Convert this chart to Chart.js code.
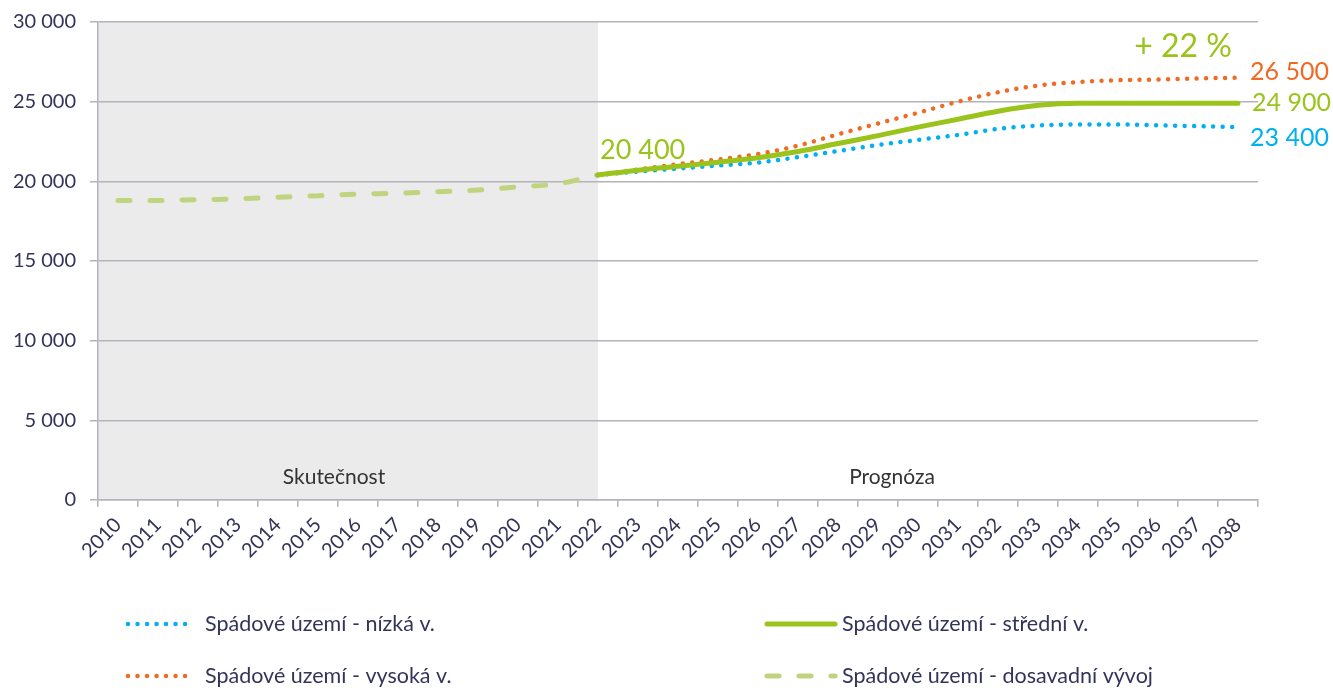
<!DOCTYPE html>
<html>
<head>
<meta charset="utf-8">
<script src="https://cdn.jsdelivr.net/npm/chart.js@4.4.0/dist/chart.umd.min.js"></script>
<style>
  body { margin: 0; background: #fff; }
  #wrap { width: 1333px; height: 688px; }
</style>
</head>
<body>
<div id="wrap"><canvas id="chart" width="1333" height="688"></canvas></div>
<script>
const years = ['2010','2011','2012','2013','2014','2015','2016','2017','2018','2019','2020','2021','2022',
  '2023','2024','2025','2026','2027','2028','2029','2030','2031','2032','2033','2034','2035','2036','2037','2038'];

const pad = n => Array(n).fill(null);

// skutečnost 2010-2022
const history = [18800, 18800, 18850, 18900, 19000, 19100, 19200, 19250, 19350, 19450, 19650, 19850, 20400].concat(pad(16));

// prognóza 2022-2038
const low = pad(12).concat([20400, 20610, 20800, 20990, 21180, 21520, 21900, 22280, 22600, 22910, 23290, 23500, 23570, 23570, 23520, 23460, 23400]);
const middle = pad(12).concat([20400, 20700, 20950, 21200, 21480, 21870, 22370, 22870, 23400, 23900, 24400, 24770, 24900, 24900, 24900, 24900, 24900]);
const high = pad(12).concat([20400, 20740, 21080, 21370, 21710, 22240, 22950, 23630, 24300, 25000, 25590, 26010, 26230, 26350, 26390, 26460, 26500]);

const yTicks = [0, 5000, 10000, 15000, 20000, 25000, 30000];
const lastActualIndex = 12;
const growthLabel = '+ 22 %';

const fmt = v => String(v).replace(/\B(?=(\d{3})+(?!\d))/g, ' ');

const navy = '#34345a';
const gridColor = '#b3b3bb';
const blue = '#00b0f0';
const orange = '#f06a23';
const green = '#9ac31c';
const lightGreen = '#bed47f';

const backdrop = {
  id: 'backdrop',
  beforeDraw(chart) {
    const { ctx, chartArea, scales } = chart;
    ctx.save();
    ctx.fillStyle = '#ffffff';
    ctx.fillRect(0, 0, chart.width, chart.height);
    const xEnd = scales.x.getPixelForValue(lastActualIndex);
    ctx.fillStyle = '#ebebeb';
    ctx.fillRect(chartArea.left, chartArea.top, xEnd - chartArea.left, chartArea.bottom - chartArea.top);
    ctx.restore();
  },
  afterDatasetsDraw(chart) {
    const { ctx, scales } = chart;
    const x = scales.x, y = scales.y;
    ctx.save();
    ctx.textBaseline = 'middle';
    ctx.fillStyle = '#333333';
    ctx.font = '21px Lato';
    ctx.textAlign = 'center';
    ctx.fillText('Skutečnost', x.getPixelForValue(5.4), 477);
    ctx.fillText('Prognóza', x.getPixelForValue(19.35), 477);

    ctx.textAlign = 'left';
    ctx.fillStyle = green;
    ctx.font = '27px Lato';
    ctx.fillText(fmt(middle[lastActualIndex]), x.getPixelForValue(lastActualIndex) + 2, y.getPixelForValue(middle[lastActualIndex]) - 25);
    ctx.font = '32px Lato';
    ctx.textAlign = 'right';
    ctx.fillText(growthLabel, x.getPixelForValue(28) - 6, 47);

    const last = years.length - 1;
    ctx.textAlign = 'left';
    ctx.font = '25px Lato';
    const lx = x.getPixelForValue(last) + 12;
    ctx.fillStyle = orange;
    ctx.fillText(fmt(high[last]), lx, y.getPixelForValue(high[last]) - 6);
    ctx.fillStyle = green;
    ctx.fillText(fmt(middle[last]), lx + 2, y.getPixelForValue(middle[last]));
    ctx.fillStyle = blue;
    ctx.fillText(fmt(low[last]), lx, y.getPixelForValue(low[last]) + 11);
    ctx.restore();
  },
  afterDraw(chart) {
    const { ctx } = chart;
    const slots = [
      { i: 0, x: 128, y: 624, w: 62 },
      { i: 1, x: 767, y: 624, w: 68 },
      { i: 2, x: 128, y: 676, w: 62 },
      { i: 3, x: 767, y: 676, w: 68 }
    ];
    ctx.save();
    ctx.font = '21.5px Lato';
    ctx.textBaseline = 'middle';
    ctx.textAlign = 'left';
    slots.forEach(s => {
      const ds = chart.data.datasets[s.i];
      ctx.strokeStyle = ds.borderColor;
      ctx.lineWidth = ds.borderWidth;
      ctx.lineCap = ds.borderCapStyle || 'butt';
      ctx.setLineDash(ds.borderDash || []);
      ctx.beginPath();
      ctx.moveTo(s.x, s.y);
      ctx.lineTo(s.x + s.w, s.y);
      ctx.stroke();
      ctx.setLineDash([]);
      ctx.fillStyle = navy;
      ctx.fillText(ds.label, s.i % 2 ? s.x + s.w + 7 : s.x + s.w + 15, s.y);
    });
    ctx.restore();
  }
};

new Chart(document.getElementById('chart'), {
  type: 'line',
  data: {
    labels: years,
    datasets: [
      {
        label: 'Spádové území - nízká v.',
        data: low,
        borderColor: blue,
        borderWidth: 4.5,
        borderDash: [0.01, 9.5],
        borderCapStyle: 'round',
        pointRadius: 0,
        cubicInterpolationMode: 'monotone',
        order: 3
      },
      {
        label: 'Spádové území - střední v.',
        data: middle,
        borderColor: green,
        borderWidth: 5,
        borderCapStyle: 'round',
        pointRadius: 0,
        cubicInterpolationMode: 'monotone',
        order: 1
      },
      {
        label: 'Spádové území - vysoká v.',
        data: high,
        borderColor: orange,
        borderWidth: 4.5,
        borderDash: [0.01, 9.5],
        borderCapStyle: 'round',
        pointRadius: 0,
        cubicInterpolationMode: 'monotone',
        order: 2
      },
      {
        label: 'Spádové území - dosavadní vývoj',
        data: history,
        borderColor: lightGreen,
        borderWidth: 5,
        borderDash: [12, 20],
        borderCapStyle: 'round',
        pointRadius: 0,
        cubicInterpolationMode: 'monotone',
        order: 4
      }
    ]
  },
  options: {
    responsive: false,
    animation: false,
    layout: { padding: { left: 0, right: 75, top: 10, bottom: 0 } },
    plugins: {
      legend: { display: false },
      tooltip: { enabled: false }
    },
    scales: {
      x: {
        offset: true,
        afterFit: s => { s.height = 188; },
        grid: {
          display: true,
          offset: true,
          drawOnChartArea: false,
          drawTicks: true,
          tickLength: 7,
          color: gridColor,
          lineWidth: 1.5
        },
        border: { display: true, color: gridColor, width: 1.5 },
        ticks: {
          autoSkip: false,
          minRotation: 45,
          maxRotation: 45,
          padding: 6,
          color: navy,
          font: { family: 'Lato', size: 20 }
        }
      },
      y: {
        min: 0,
        max: 30000,
        afterFit: s => { s.width = 98; },
        afterBuildTicks: s => { s.ticks = yTicks.map(v => ({ value: v })); },
        grid: {
          color: gridColor,
          lineWidth: 1.5,
          tickLength: 8
        },
        border: { display: true, color: gridColor, width: 1.5 },
        ticks: {
          padding: 14,
          color: navy,
          font: { family: 'Lato', size: 20, lineHeight: 0.8 },
          callback: v => fmt(v)
        }
      }
    }
  },
  plugins: [backdrop]
});
</script>
</body>
</html>
